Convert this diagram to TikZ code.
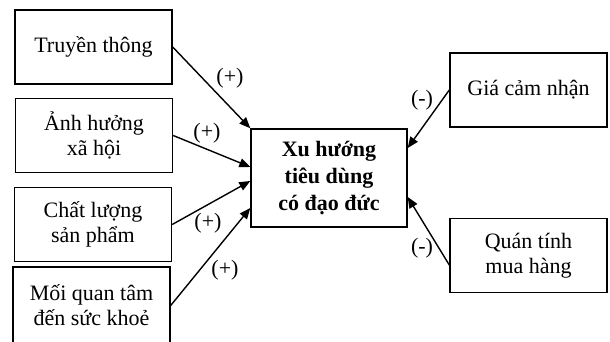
\documentclass[tikz,border=0pt]{standalone}
\usepackage{fontspec}
\setmainfont{Liberation Serif}
\usetikzlibrary{arrows.meta, positioning}

\begin{document}
\begin{tikzpicture}[
  x=0.5pt, y=-0.5pt,
  box/.style={draw, line width=0.7pt, minimum width=78.5pt, minimum height=37pt,
    align=center, inner sep=2pt, font=\fontsize{11}{12.5}\selectfont},
  arr/.style={-{Triangle[length=5.5pt, width=4.5pt]}, line width=0.7pt},
  sign/.style={font=\fontsize{11}{12}\selectfont, inner sep=1pt}
]
\useasboundingbox (0,0) rectangle (610,342);

% factors on the left
\node[box] (tt) at (93.5,47) {Truyền thông};
\node[box] (ah) at (94,135.5) {Ảnh hưởng\\xã hội};
\node[box] (cl) at (93,224.5) {Chất lượng\\sản phẩm};
\node[box, minimum height=38.5pt] (mq) at (91.5,305.5) {Mối quan tâm\\đến sức khoẻ};

% central construct
\node[box, minimum width=78pt, minimum height=49pt,
  font=\fontsize{11}{13.5}\selectfont\bfseries] (xh) at (329,178)
  {Xu hướng\\tiêu dùng\\có đạo đức};

% factors on the right
\node[box] (gc) at (528.5,90) {Giá cảm nhận};
\node[box] (qt) at (528.5,255.5) {Quán tính\\mua hàng};

% positive effects
\draw[arr] (tt.east) -- (xh.north west);
\draw[arr] (ah.east) -- ([yshift=5.5pt]xh.west);
\draw[arr] (cl.east) -- ([yshift=-1.5pt]xh.west);
\draw[arr] (mq.east) -- ([yshift=-15pt]xh.west);

% negative effects
\draw[arr] (gc.west) -- ([yshift=15pt]xh.east);
\draw[arr] ([yshift=-4.75pt]qt.west) -- ([yshift=-9.5pt]xh.east);

% signs
\node[sign] (s1) at (230,78) {(+)};
\node[sign] (s2) at (207,133) {(+)};
\node[sign] (s3) at (208,223) {(+)};
\node[sign] (s4) at (225,270) {(+)};
\node[sign] (s5) at (422,100) {(-)};
\node[sign] (s6) at (422,248) {(-)};
\end{tikzpicture}
\end{document}
